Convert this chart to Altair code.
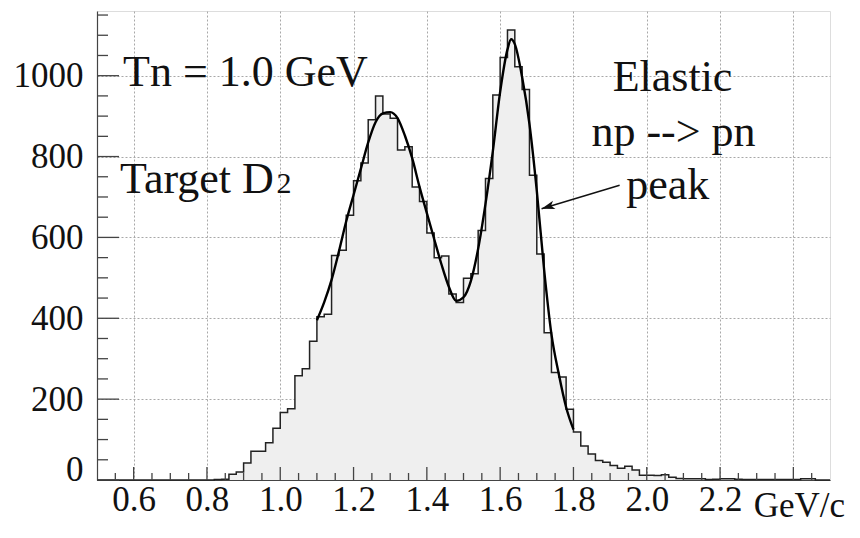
import altair as alt
import pandas as pd

# ---------------- data ----------------
bin_start = 0.50
bin_width = 0.02
counts = [
    0, 0, 0, 0, 0, 0, 0, 0, 0, 0, 0, 0, 0, 0, 0,          # 0.50 - 0.78
    0, 1, 2, 14, 20, 42, 71, 71, 92, 128,                  # 0.80 - 0.98
    167, 176, 258, 275, 343, 404, 410, 555, 568, 655,      # 1.00 - 1.18
    740, 784, 891, 950, 905, 895, 816, 824, 725, 689,      # 1.20 - 1.38
    611, 550, 554, 460, 439, 499, 510, 617, 746, 952,      # 1.40 - 1.58
    1045, 1113, 1022, 966, 754, 559, 364, 266, 255, 175,   # 1.60 - 1.78
    119, 84, 64, 48, 44, 36, 29, 34, 25, 12,               # 1.80 - 1.98
    12, 11, 13, 7, 4, 3, 3, 3, 1, 2,                       # 2.00 - 2.18
    3, 3, 2, 1, 1, 1, 1, 1, 1, 1,                          # 2.20 - 2.38
    1, 3, 3, 0, 0,                                         # 2.40 - 2.48
]

fit_x = [1.10, 1.12, 1.14, 1.16, 1.18, 1.20, 1.22, 1.24, 1.26, 1.28,
         1.30, 1.32, 1.34, 1.36, 1.38, 1.40, 1.42, 1.44, 1.46, 1.48,
         1.50, 1.52, 1.54, 1.56, 1.58, 1.60, 1.62, 1.63, 1.64, 1.66,
         1.68, 1.70, 1.72, 1.74, 1.76, 1.78, 1.80]
fit_y = [395, 440, 495, 565, 640, 705, 770, 835, 885, 907,
         910, 895, 852, 796, 725, 660, 596, 533, 478, 443,
         452, 492, 572, 683, 813, 960, 1065, 1090, 1078, 996,
         880, 715, 520, 360, 262, 180, 125]

x_major = [0.6, 0.8, 1.0, 1.2, 1.4, 1.6, 1.8, 2.0, 2.2, 2.4]
x_minor = [0.55, 0.65, 0.7, 0.75, 0.85, 0.9, 0.95, 1.05, 1.1, 1.15, 1.25, 1.3, 1.35,
           1.45, 1.5, 1.55, 1.65, 1.7, 1.75, 1.85, 1.9, 1.95, 2.05, 2.1, 2.15,
           2.25, 2.3, 2.35, 2.45]
y_major = [0, 200, 400, 600, 800, 1000]
y_minor = [50, 100, 150, 250, 300, 350, 450, 500, 550, 650, 700, 750,
           850, 900, 950, 1050, 1100, 1150]

FONT = "Liberation Serif"

# ---------------- tables ----------------
hx = [round(bin_start + i * bin_width, 2) for i in range(len(counts))] + [2.50]
hy = counts + [counts[-1]]
hist = pd.DataFrame({"x": hx, "y": hy})
fit = pd.DataFrame({"x": fit_x, "y": fit_y})

X = alt.Scale(domain=[0.5, 2.5], nice=False, zero=False)
Y = alt.Scale(domain=[0, 1160], nice=False, zero=True)

xaxis = alt.Axis(values=x_major,
                 labelExpr="datum.value > 2.3 ? '' : format(datum.value, '.1f')",
                 ticks=False, labelPadding=2, labelFontSize=35, labelFont=FONT,
                 labelColor="#111", grid=True, gridDash=[2, 2], gridColor="#a8a8a8",
                 domainColor="#444", domainWidth=1.2, title=None)
yaxis = alt.Axis(values=y_major, format="d", ticks=False, labelPadding=14,
                 labelFontSize=35, labelFont=FONT, labelColor="#111",
                 labelFlush=False,
                 labelBaseline=alt.condition("datum.value == 0",
                                             alt.value("alphabetic"),
                                             alt.value("middle")),
                 grid=True, gridDash=[2, 2], gridColor="#a8a8a8",
                 domainColor="#444", domainWidth=1.2, title=None)


def XE(field):
    return alt.X(field, scale=X, axis=xaxis)


def YE(field):
    return alt.Y(field, scale=Y, axis=yaxis)


area = alt.Chart(hist).mark_area(interpolate="step-after", color="#efefef").encode(
    x=XE("x:Q"), y=YE("y:Q"))
outline = alt.Chart(hist).mark_line(interpolate="step-after", color="#222",
                                    strokeWidth=1.5).encode(x=XE("x:Q"), y=YE("y:Q"))
fitline = alt.Chart(fit).mark_line(interpolate="monotone", color="#000",
                                   strokeWidth=2.4).encode(x=XE("x:Q"), y=YE("y:Q"))


# inward ticks (ROOT style)
def yticks(vals, length):
    return alt.Chart(pd.DataFrame({"y": vals})).mark_rule(color="#444", strokeWidth=1.3).encode(
        y=YE("y:Q"), x=alt.value(0), x2=alt.value(length))


def xticks(vals, length):
    return alt.Chart(pd.DataFrame({"x": vals})).mark_rule(color="#444", strokeWidth=1.3).encode(
        x=XE("x:Q"), y=alt.value(469), y2=alt.value(469 - length))


def label(text, x, y, size, align="left"):
    return alt.Chart(pd.DataFrame({"t": [text], "x": [x], "y": [y]})).mark_text(
        font=FONT, fontSize=size, align=align, baseline="alphabetic", color="#111").encode(
        x=XE("x:Q"), y=YE("y:Q"), text="t:N")


arrow_df = pd.DataFrame({"x": [1.926], "y": [729], "x2": [1.713], "y2": [671]})
arrow_line = alt.Chart(arrow_df).mark_rule(color="#111", strokeWidth=1.4).encode(
    x=XE("x:Q"), y=YE("y:Q"), x2="x2:Q", y2="y2:Q")
head_df = pd.DataFrame({"x": [1.713], "y": [671]})
arrow_head = alt.Chart(head_df).mark_point(
    shape="M0,0 L-1,-0.32 L-0.75,0 L-1,0.32 Z", size=700, angle=163,
    filled=True, color="#111", opacity=1).encode(x=XE("x:Q"), y=YE("y:Q"))

unit = alt.Chart(pd.DataFrame({"t": ["GeV/c"]})).mark_text(
    font=FONT, fontSize=35, align="right", baseline="alphabetic", color="#111").encode(
    x=alt.value(748), y=alt.value(506), text="t:N")

chart = alt.layer(
    area, outline, fitline,
    yticks(y_major, 22), yticks(y_minor, 11),
    xticks(x_major, 13), xticks(x_minor, 7),
    label("Tn = 1.0 GeV", 0.571, 975, 44),
    label("Target D", 0.563, 709, 44),
    label("2", 0.99, 709, 30),
    label("Elastic", 1.907, 962, 44),
    label("np --> pn", 1.849, 825, 44),
    label("peak", 1.944, 696, 44),
    arrow_line, arrow_head, unit,
).properties(
    width=733, height=469,
    padding={"left": 89, "top": 3, "right": 22, "bottom": 50},
    autosize="none",
).configure_view(stroke="#333", strokeWidth=1.2).configure(background="white")

chart.save("out.html", embed_options={"renderer": "svg", "actions": False})
